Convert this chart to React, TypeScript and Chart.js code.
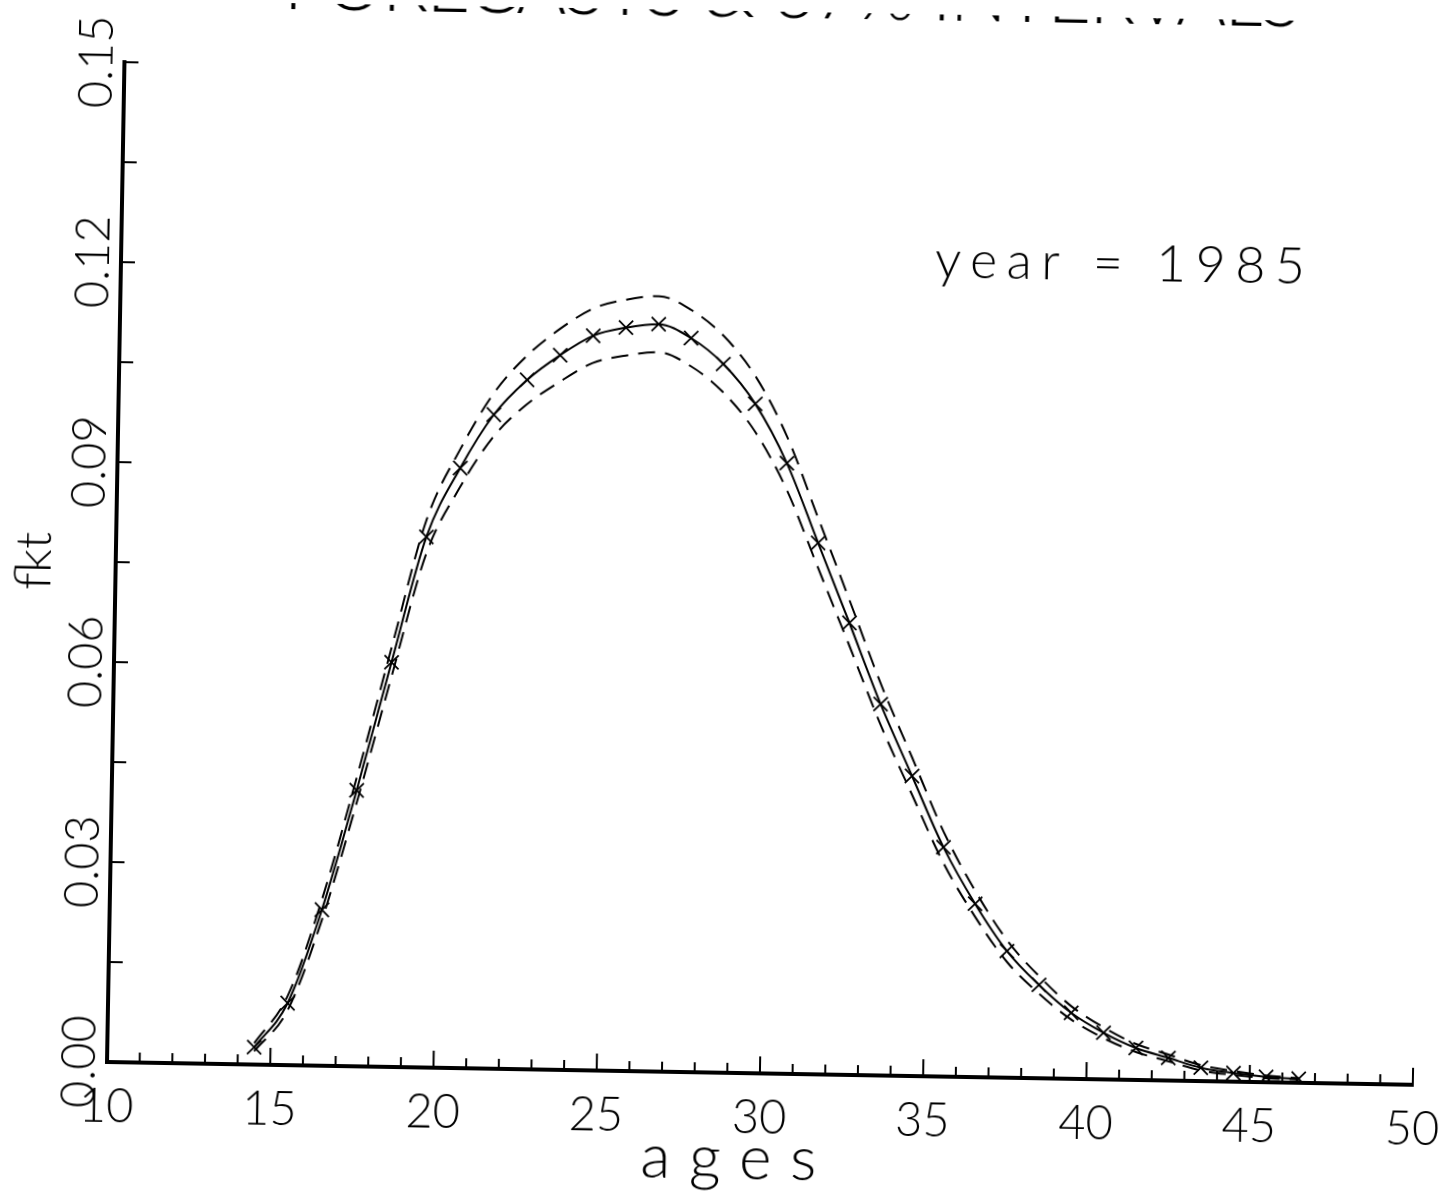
import React, { useEffect, useRef } from 'react';
import { Chart, registerables } from 'chart.js';

Chart.register(...registerables);

// ---- data ----
const ages = [14.5, 15.5, 16.5, 17.5, 18.5, 19.5, 20.5, 21.5, 22.5, 23.5, 24.5, 25.5, 26.5, 27.5, 28.5, 29.5, 30.5, 31.5, 32.5, 33.5, 34.5, 35.5, 36.5, 37.5, 38.5, 39.5, 40.5, 41.5, 42.5, 43.5, 44.5, 45.5, 46.5];
const forecast = [0.0026, 0.0093, 0.0234, 0.0414, 0.0607, 0.0796, 0.0900, 0.0981, 0.1034, 0.1072, 0.1102, 0.1115, 0.1121, 0.1101, 0.1063, 0.1004, 0.0916, 0.0797, 0.0678, 0.0557, 0.0450, 0.0344, 0.0260, 0.0190, 0.0140, 0.0099, 0.0070, 0.0048, 0.0034, 0.0020, 0.0013, 0.0008, 0.0006];
const upper = [0.0032, 0.0104, 0.0250, 0.0434, 0.0630, 0.0822, 0.0929, 0.1014, 0.1071, 0.1112, 0.1143, 0.1157, 0.1163, 0.1143, 0.1105, 0.1045, 0.0955, 0.0833, 0.0711, 0.0587, 0.0477, 0.0367, 0.0279, 0.0206, 0.0153, 0.0109, 0.0078, 0.0054, 0.0039, 0.0024, 0.0016, 0.0010, 0.0007];
const lower = [0.0020, 0.0082, 0.0218, 0.0394, 0.0584, 0.0770, 0.0871, 0.0948, 0.0997, 0.1032, 0.1061, 0.1073, 0.1079, 0.1059, 0.1021, 0.0963, 0.0877, 0.0761, 0.0645, 0.0527, 0.0423, 0.0321, 0.0241, 0.0174, 0.0127, 0.0089, 0.0062, 0.0042, 0.0029, 0.0016, 0.0010, 0.0006, 0.0005];
const xTickLabels = [10, 15, 20, 25, 30, 35, 40, 45, 50];
const yTickLabels = [0, 0.03, 0.06, 0.09, 0.12, 0.15];
const titleText = 'FORECASTS & 67% INTERVALS';
const annotationText = 'year = 1985';
const xAxisTitle = 'ages';
const yAxisTitle = 'fkt';

const FONT = 'Lato, "DejaVu Sans", sans-serif';

function drawFitted(ctx: CanvasRenderingContext2D, text: string, x0: number, x1: number, y: number, size: number) {
  ctx.font = `300 ${size}px ${FONT}`;
  (ctx as any).letterSpacing = '0px';
  const natural = ctx.measureText(text).width;
  const ls = (x1 - x0 - natural) / Math.max(1, text.length - 1);
  (ctx as any).letterSpacing = `${ls}px`;
  ctx.fillText(text, x0, y);
  (ctx as any).letterSpacing = '0px';
}

export default function App() {
  const ref = useRef<HTMLCanvasElement>(null);

  useEffect(() => {
    const canvas = ref.current;
    if (!canvas) return;

    const innerTicks = {
      id: 'innerTicks',
      afterDraw(chart: any) {
        const { ctx, chartArea, scales } = chart;
        const x = scales.x;
        const y = scales.y;
        ctx.save();
        ctx.strokeStyle = '#000';
        ctx.lineWidth = 2;
        for (let v = 10; v <= 50; v++) {
          const px = x.getPixelForValue(v);
          const len = v % 5 === 0 ? 17 : 10;
          ctx.beginPath();
          ctx.moveTo(px, chartArea.bottom);
          ctx.lineTo(px, chartArea.bottom - len);
          ctx.stroke();
        }
        for (let i = 1; i <= 10; i++) {
          const py = y.getPixelForValue(i * 0.015);
          ctx.beginPath();
          ctx.moveTo(chartArea.left, py);
          ctx.lineTo(chartArea.left + 14, py);
          ctx.stroke();
        }
        ctx.fillStyle = '#000';
        ctx.textAlign = 'left';
        ctx.textBaseline = 'alphabetic';
        drawFitted(ctx, titleText, 265, 1283, 6, 76);
        drawFitted(ctx, annotationText, 921, 1291, 263, 52);
        // x axis title, widely spaced like the original plotter lettering
        drawFitted(ctx, xAxisTitle, 642, 818, 1168, 62);
        ctx.restore();
      },
    };

    const tickFont = { family: FONT, size: 47, weight: 300 as any };

    const chart = new Chart(canvas, {
      type: 'line',
      data: {
        datasets: [
          {
            label: 'forecast',
            data: ages.map((a, i) => ({ x: a, y: forecast[i] })),
            borderColor: '#000',
            borderWidth: 2,
            pointStyle: 'crossRot',
            pointRadius: 10,
            pointBorderWidth: 1.8,
            pointBorderColor: '#000',
            pointBackgroundColor: '#000',
            cubicInterpolationMode: 'monotone',
            fill: false,
          },
          {
            label: 'upper',
            data: ages.map((a, i) => ({ x: a, y: upper[i] })),
            borderColor: '#000',
            borderWidth: 2,
            borderDash: [17, 10],
            pointRadius: 0,
            cubicInterpolationMode: 'monotone',
            fill: false,
          },
          {
            label: 'lower',
            data: ages.map((a, i) => ({ x: a, y: lower[i] })),
            borderColor: '#000',
            borderWidth: 2,
            borderDash: [17, 10],
            pointRadius: 0,
            cubicInterpolationMode: 'monotone',
            fill: false,
          },
        ],
      },
      options: {
        responsive: false,
        animation: false,
        devicePixelRatio: 1,
        layout: { padding: { top: 62, right: 29, left: 0, bottom: 0 } },
        plugins: {
          legend: { display: false },
          tooltip: { enabled: false },
          title: { display: false },
        },
        scales: {
          x: {
            type: 'linear',
            min: 10,
            max: 50,
            afterFit: (s: any) => {
              s.height = 137;
              s.paddingLeft = 0;
              s.paddingRight = 0;
            },
            afterBuildTicks: (s: any) => { s.ticks = xTickLabels.map((v) => ({ value: v })); },
            grid: { display: false, drawTicks: false },
            border: { display: true, color: '#000', width: 4 },
            ticks: {
              color: '#000',
              font: tickFont,
              padding: 17,
              maxRotation: 0,
              autoSkip: false,
              callback: (v: any) => String(v),
            },
            title: { display: false, text: xAxisTitle },
          },
          y: {
            type: 'linear',
            min: 0,
            max: 0.15,
            afterFit: (s: any) => {
              s.width = 107;
              s.paddingTop = 0;
              s.paddingBottom = 0;
            },
            afterBuildTicks: (s: any) => { s.ticks = yTickLabels.map((v) => ({ value: v })); },
            grid: { display: false, drawTicks: false },
            border: { display: true, color: '#000', width: 4 },
            ticks: {
              color: '#000',
              font: tickFont,
              minRotation: 90,
              maxRotation: 90,
              crossAlign: 'center',
              padding: -19,
              autoSkip: false,
              callback: (v: any) => Number(v).toFixed(2),
            },
            title: {
              display: true,
              text: yAxisTitle,
              color: '#000',
              font: { family: FONT, size: 50, weight: 300 as any },
              padding: { top: -4, bottom: 0 },
            },
          },
        },
      },
      plugins: [innerTicks],
    } as any);

    return () => chart.destroy();
  }, []);

  return (
    <div
      style={{
        position: 'absolute',
        left: 0,
        top: 0,
        width: 1442,
        height: 1199,
        overflow: 'hidden',
        background: '#fff',
      }}
    >
      <canvas
        ref={ref}
        width={1442}
        height={1199}
        style={{
          display: 'block',
          width: 1442,
          height: 1199,
          transform: 'rotate(1deg)',
          transformOrigin: '107px 1062px',
        }}
      />
    </div>
  );
}
